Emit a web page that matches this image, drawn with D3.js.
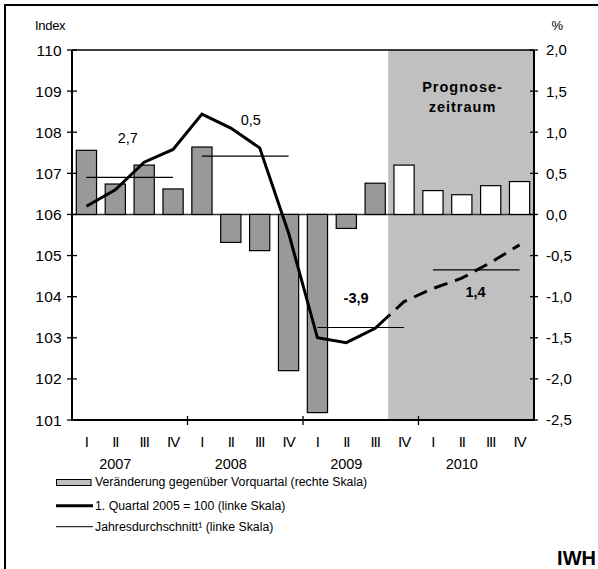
<!DOCTYPE html>
<html>
<head>
<meta charset="utf-8">
<script src="https://cdn.jsdelivr.net/npm/d3@7"></script>
<style>
  html, body { margin: 0; padding: 0; background: #fff; }
  svg { display: block; font-family: "Liberation Sans", Arial, sans-serif; }
</style>
</head>
<body>
<svg id="chart" width="598" height="569"></svg>
<script>
// ---------- data ----------
const years = ["2007", "2008", "2009", "2010"];
const quarters = ["I", "II", "III", "IV"];
// change vs previous quarter, % (right scale)
const changePct = [0.78, 0.37, 0.60, 0.31, 0.82, -0.34, -0.44, -1.90, -2.41, -0.17, 0.38, 0.60, 0.29, 0.24, 0.35, 0.40];
// index, 1st quarter 2005 = 100 (left scale)
const indexValues = [106.2, 106.6, 107.27, 107.58, 108.44, 108.1, 107.62, 105.55, 103.0, 102.88, 103.23, 103.88, 104.2, 104.45, 104.83, 105.26];
// forecast flag per quarter
const isForecast = [false, false, false, false, false, false, false, false, false, false, false, true, true, true, true, true];
// annual averages (left scale)
const annualAvg = [106.9, 107.42, 103.25, 104.65];
// annual growth labels
const annualGrowth = ["2,7", "0,5", "-3,9", "1,4"];
const growthBold = [false, false, true, true];
// ticks
const leftTicks = [101, 102, 103, 104, 105, 106, 107, 108, 109, 110];
const rightTicks = [-2.5, -2.0, -1.5, -1.0, -0.5, 0.0, 0.5, 1.0, 1.5, 2.0];
const legendLabels = ["Veränderung gegenüber Vorquartal (rechte Skala)", "1. Quartal 2005 = 100 (linke Skala)", "Jahresdurchschnitt\u00B9 (linke Skala)"];

const categories = years.flatMap(y => quarters.map(q => y + " " + q));

// ---------- layout ----------
const L = 72, R = 534, T = 50, B = 420;
const svg = d3.select("#chart");

const x = d3.scaleBand().domain(categories).range([L, R]).paddingInner(0.3).paddingOuter(0.15);
const step = x.step();
const cx = c => x(c) + x.bandwidth() / 2;
const yL = d3.scaleLinear().domain([101, 110]).range([B, T]);
const yR = d3.scaleLinear().domain([-2.5, 2.0]).range([B, T]);

// outer frame (only top/left visible)
svg.append("rect").attr("x", 5).attr("y", 5).attr("width", 640).attr("height", 640)
  .attr("fill", "none").attr("stroke", "#000").attr("stroke-width", 2);

// forecast shading
const fStart = categories[isForecast.indexOf(true)];
const splitX = x(fStart) - step * 0.2;
svg.append("rect")
  .attr("x", splitX).attr("y", T)
  .attr("width", R - splitX).attr("height", B - T)
  .attr("fill", "#c0c0c0");

svg.append("text").attr("x", 462.5).attr("y", 91.5).attr("text-anchor", "middle")
  .attr("font-size", 14.5).attr("font-weight", "bold").attr("letter-spacing", 1)
  .text("Prognose-");
svg.append("text").attr("x", 462.5).attr("y", 112.3).attr("text-anchor", "middle")
  .attr("font-size", 14.5).attr("font-weight", "bold").attr("letter-spacing", 1)
  .text("zeitraum");

// top line of plot
svg.append("line").attr("x1", L).attr("x2", R).attr("y1", T).attr("y2", T)
  .attr("stroke", "#000").attr("stroke-width", 1.3);

// zero line
svg.append("line").attr("x1", L).attr("x2", R).attr("y1", yR(0)).attr("y2", yR(0))
  .attr("stroke", "#333").attr("stroke-width", 1.5);

// bars
svg.append("g").selectAll("rect").data(changePct).join("rect")
  .attr("x", (d, i) => x(categories[i]))
  .attr("width", x.bandwidth())
  .attr("y", d => Math.min(yR(d), yR(0)))
  .attr("height", d => Math.abs(yR(d) - yR(0)))
  .attr("fill", (d, i) => isForecast[i] ? "#ffffff" : "#999999")
  .attr("stroke", "#000").attr("stroke-width", 1.2);

// annual average lines
svg.append("g").selectAll("line").data(annualAvg).join("line")
  .attr("x1", (d, i) => cx(categories[i * 4]))
  .attr("x2", (d, i) => cx(categories[i * 4 + 3]))
  .attr("y1", d => yL(d)).attr("y2", d => yL(d))
  .attr("stroke", "#000").attr("stroke-width", 1.2);

// index line: solid history, dashed forecast (split via clip)
const defs = svg.append("defs");
defs.append("clipPath").attr("id", "clipHist").append("rect")
  .attr("x", 0).attr("y", 0).attr("width", splitX).attr("height", 569);
defs.append("clipPath").attr("id", "clipFc").append("rect")
  .attr("x", splitX).attr("y", 0).attr("width", 598 - splitX).attr("height", 569);
const lineGen = d3.line().x((d, i) => cx(categories[i])).y(d => yL(d));
svg.append("path").datum(indexValues).attr("d", lineGen)
  .attr("fill", "none").attr("stroke", "#000").attr("stroke-width", 3)
  .attr("stroke-linejoin", "miter").attr("clip-path", "url(#clipHist)");
svg.append("path").datum(indexValues).attr("d", lineGen)
  .attr("fill", "none").attr("stroke", "#000").attr("stroke-width", 3)
  .attr("stroke-dasharray", "14,8").attr("clip-path", "url(#clipFc)");

// growth labels
const growthPos = [[-2, 107.73], [5.5, 108.18], [-4.7, 103.85], [-0.7, 104.0]];
svg.append("g").selectAll("text").data(annualGrowth).join("text")
  .attr("x", (d, i) => (cx(categories[i * 4 + 1]) + cx(categories[i * 4 + 2])) / 2 + growthPos[i][0])
  .attr("y", (d, i) => yL(growthPos[i][1]))
  .attr("text-anchor", "middle").attr("font-size", 14.5)
  .attr("font-weight", (d, i) => growthBold[i] ? "bold" : "normal")
  .text(d => d);

// axes lines
svg.append("line").attr("x1", L).attr("x2", L).attr("y1", T).attr("y2", B)
  .attr("stroke", "#000").attr("stroke-width", 2);
svg.append("line").attr("x1", R).attr("x2", R).attr("y1", T).attr("y2", B + 1)
  .attr("stroke", "#000").attr("stroke-width", 2);
svg.append("line").attr("x1", L - 1).attr("x2", R + 1).attr("y1", B).attr("y2", B)
  .attr("stroke", "#000").attr("stroke-width", 2);

// left ticks
const gl = svg.append("g");
gl.selectAll("line").data(leftTicks).join("line")
  .attr("x1", L - 5).attr("x2", L + 5).attr("y1", d => yL(d)).attr("y2", d => yL(d))
  .attr("stroke", "#000").attr("stroke-width", 1.3);
gl.selectAll("text").data(leftTicks).join("text")
  .attr("x", 62).attr("y", d => yL(d)).attr("dy", "0.36em")
  .attr("text-anchor", "end").attr("font-size", 15.5).attr("letter-spacing", 0.3).text(d => d);

// right ticks
const fmtR = d => d3.format(".1f")(d).replace(".", ",").replace("\u2212", "-");
const gr = svg.append("g");
gr.selectAll("line").data(rightTicks).join("line")
  .attr("x1", R - 4).attr("x2", R + 4).attr("y1", d => yR(d)).attr("y2", d => yR(d))
  .attr("stroke", "#000").attr("stroke-width", 1.3);
gr.selectAll("text").data(rightTicks).join("text")
  .attr("x", 546).attr("y", d => yR(d)).attr("dy", "0.36em")
  .attr("text-anchor", "start").attr("font-size", 15).text(fmtR);

// year separator ticks on x axis
svg.append("g").selectAll("line").data(years.slice(1)).join("line")
  .attr("x1", (d, i) => x(categories[(i + 1) * 4]) - step * 0.15)
  .attr("x2", (d, i) => x(categories[(i + 1) * 4]) - step * 0.15)
  .attr("y1", B - 4).attr("y2", B + 5)
  .attr("stroke", "#000").attr("stroke-width", 1.3);

// quarter labels
svg.append("g").selectAll("text").data(categories).join("text")
  .attr("x", d => cx(d)).attr("y", 446.8)
  .attr("text-anchor", "middle").attr("font-size", 15).attr("letter-spacing", -1)
  .text((d, i) => quarters[i % 4]);

// year labels
svg.append("g").selectAll("text").data(years).join("text")
  .attr("x", (d, i) => cx(categories[i * 4 + 1])).attr("y", 468.5)
  .attr("text-anchor", "middle").attr("font-size", 14.5)
  .text(d => d);

// axis titles
svg.append("text").attr("x", 35).attr("y", 30).attr("font-size", 13).attr("letter-spacing", -0.3).text("Index");
svg.append("text").attr("x", 551.5).attr("y", 30).attr("font-size", 13).text("%");

// legend
const lg = svg.append("g");
lg.append("rect").attr("x", 56.5).attr("y", 479.5).attr("width", 34.5).attr("height", 6)
  .attr("fill", "#c0c0c0").attr("stroke", "#000").attr("stroke-width", 1);
lg.append("line").attr("x1", 56).attr("x2", 93).attr("y1", 505.7).attr("y2", 505.7)
  .attr("stroke", "#000").attr("stroke-width", 3);
lg.append("line").attr("x1", 56).attr("x2", 93).attr("y1", 526.7).attr("y2", 526.7)
  .attr("stroke", "#000").attr("stroke-width", 1);
lg.selectAll("text").data(legendLabels).join("text")
  .attr("x", 95).attr("y", (d, i) => [485.5, 509.5, 530.7][i])
  .attr("font-size", 12.3).text(d => d);

// source
svg.append("text").attr("x", 596).attr("y", 565).attr("text-anchor", "end")
  .attr("font-size", 20).attr("font-weight", "bold").text("IWH");
</script>
</body>
</html>
